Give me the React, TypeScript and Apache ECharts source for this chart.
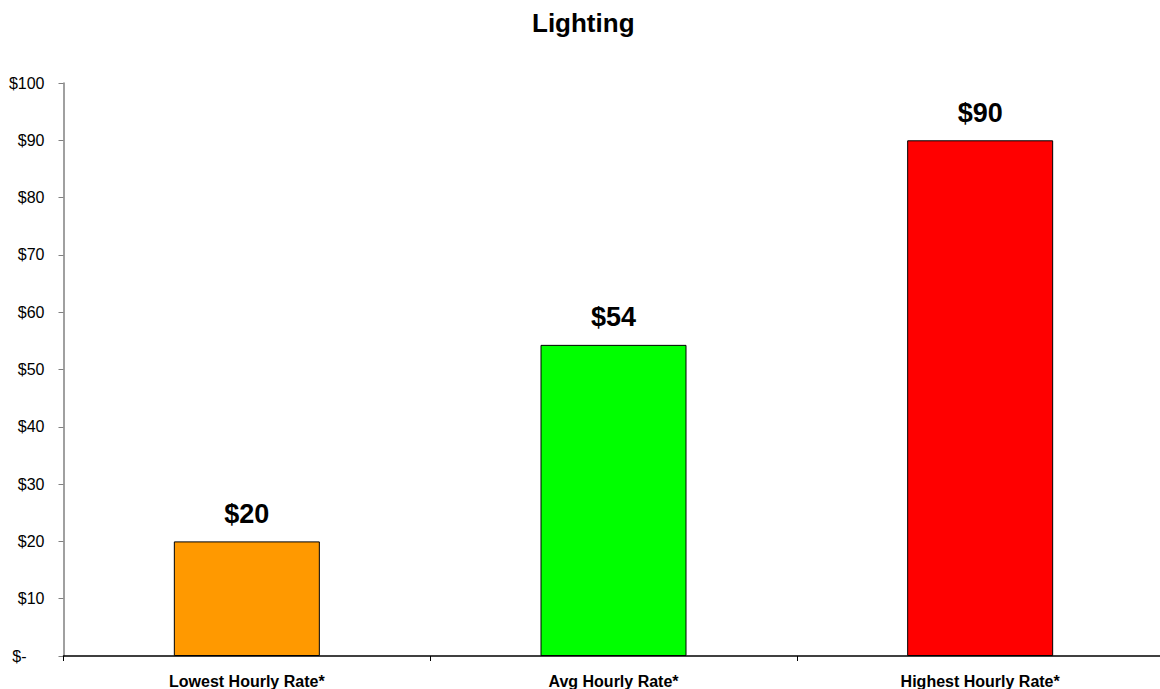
import React, { useEffect, useRef } from "react";
import * as echarts from "echarts";

const categories = ["Lowest Hourly Rate*", "Avg Hourly Rate*", "Highest Hourly Rate*"];
const values = [20, 54.3, 90];
const barColors = ["#FF9900", "#00FF00", "#FF0000"];
const yTicks = { min: 0, max: 100, interval: 10 };
const titleText = "Lighting";

export default function App() {
  const ref = useRef<HTMLDivElement>(null);
  useEffect(() => {
    if (!ref.current) return;
    const chart = echarts.init(ref.current, null, { renderer: "svg" });
    chart.setOption({
      animation: false,
      backgroundColor: "#ffffff",
      title: {
        text: titleText,
        left: 527,
        top: 5,
        textStyle: { fontFamily: "Liberation Sans, Arial", fontSize: 26, fontWeight: "bold", color: "#000" },
      },
      grid: { left: 63.5, top: 83, width: 1100, height: 573, containLabel: false },
      xAxis: {
        type: "category",
        data: categories,
        axisLine: { lineStyle: { color: "#000", width: 1.5 } },
        axisTick: { show: true, length: 5, lineStyle: { color: "#000" } },
        axisLabel: {
          margin: 17,
          fontFamily: "Liberation Sans, Arial",
          fontSize: 16,
          fontWeight: "bold",
          color: "#000",
        },
      },
      yAxis: {
        type: "value",
        min: yTicks.min,
        max: yTicks.max,
        interval: yTicks.interval,
        splitLine: { show: false },
        axisLine: { show: true, lineStyle: { color: "#808080", width: 1.5 } },
        axisTick: { show: true, length: 5, lineStyle: { color: "#808080" } },
        axisLabel: {
          margin: 19,
          fontFamily: "Liberation Sans, Arial",
          fontSize: 16,
          color: "#000",
          formatter: (v: number) => (v === 0 ? "{z|$-}" : "$" + v),
          rich: { z: { padding: [0, 18, 0, 0], fontSize: 16, fontFamily: "Liberation Sans, Arial", color: "#000" } },
        },
      },
      series: [
        {
          type: "bar",
          barWidth: 146,
          data: values.map((v, i) => ({
            value: v,
            itemStyle: { color: barColors[i], borderColor: "#000", borderWidth: 1 },
          })),
          label: {
            show: true,
            position: "top",
            distance: 14,
            fontFamily: "Liberation Sans, Arial",
            fontSize: 27,
            fontWeight: "bold",
            color: "#000",
            formatter: (p: any) => "$" + Math.round(p.value),
          },
        },
      ],
    });
    return () => chart.dispose();
  }, []);
  return (
    <div style={{ position: "absolute", left: 0, top: 0, width: 1160, height: 689, overflow: "hidden", background: "#fff" }}>
      <div ref={ref} style={{ width: 1180, height: 689 }} />
    </div>
  );
}
